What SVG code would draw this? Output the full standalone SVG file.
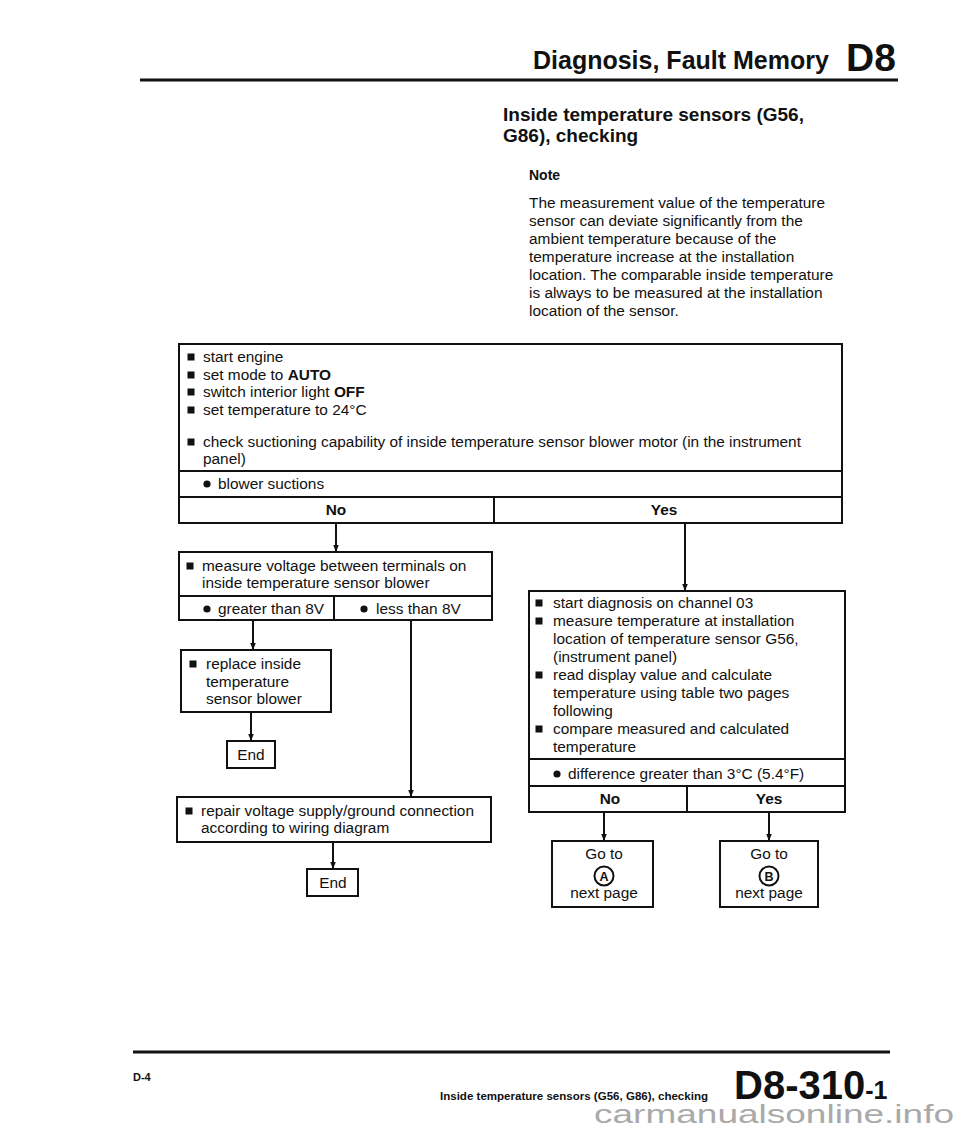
<svg xmlns="http://www.w3.org/2000/svg" width="960" height="1129" viewBox="0 0 960 1129">
<defs>
<marker id="ah" viewBox="0 0 10 10" refX="10" refY="5" markerWidth="7" markerHeight="7" markerUnits="userSpaceOnUse" orient="auto">
<path d="M0,1 L10,5 L0,9 z" fill="#111"/>
</marker>
<rect id="sq" x="-3.5" y="-3.5" width="7" height="7" fill="#111"/>
<circle id="dot" r="3.6" fill="#111"/>
</defs>
<style>
text{font-family:"Liberation Sans",Arial,Helvetica,sans-serif;fill:#111}
.t{font-size:15.4px}
.b{font-weight:bold}
.box{fill:#fff;stroke:#111;stroke-width:2}
.ln{stroke:#111;stroke-width:2;fill:none}
.c{stroke:#111;stroke-width:2;fill:none;marker-end:url(#ah)}
.m{text-anchor:middle}
</style>
<rect width="960" height="1129" fill="#fff"/>

<g id="header">
<text x="533" y="69" class="b" font-size="25">Diagnosis, Fault Memory</text>
<text x="846" y="71" class="b" font-size="39">D8</text>
<line x1="140" y1="80" x2="898" y2="80" stroke="#111" stroke-width="3"/>
</g>

<g id="title">
<text x="503" y="121" class="b" font-size="19">Inside temperature sensors (G56,</text>
<text x="503" y="142" class="b" font-size="19">G86), checking</text>
<text x="529" y="180" class="b" font-size="14">Note</text>
<g class="t">
<text x="529" y="208">The measurement value of the temperature</text>
<text x="529" y="226">sensor can deviate significantly from the</text>
<text x="529" y="244">ambient temperature because of the</text>
<text x="529" y="262">temperature increase at the installation</text>
<text x="529" y="280">location. The comparable inside temperature</text>
<text x="529" y="298">is always to be measured at the installation</text>
<text x="529" y="316">location of the sensor.</text>
</g>
</g>

<g id="connectors">
<line class="c" x1="336" y1="523" x2="336" y2="552"/>
<line class="c" x1="685" y1="523" x2="685" y2="591"/>
<line class="c" x1="253" y1="620" x2="253" y2="650"/>
<line class="c" x1="251" y1="712" x2="251" y2="741"/>
<line class="c" x1="411" y1="620" x2="411" y2="797"/>
<line class="c" x1="333" y1="842" x2="333" y2="869"/>
<line class="c" x1="604" y1="812" x2="604" y2="841"/>
<line class="c" x1="769" y1="812" x2="769" y2="841"/>
</g>

<g id="start-box">
<rect class="box" x="179" y="344" width="663" height="179"/>
<line class="ln" x1="179" y1="471" x2="842" y2="471"/>
<line class="ln" x1="179" y1="497" x2="842" y2="497"/>
<line class="ln" x1="494" y1="497" x2="494" y2="523"/>
<use href="#sq" x="191" y="357"/>
<use href="#sq" x="191" y="375"/>
<use href="#sq" x="191" y="392"/>
<use href="#sq" x="191" y="410"/>
<use href="#sq" x="191" y="442"/>
<g class="t">
<text x="203" y="362">start engine</text>
<text x="203" y="380">set mode to <tspan class="b">AUTO</tspan></text>
<text x="203" y="397">switch interior light <tspan class="b">OFF</tspan></text>
<text x="203" y="415">set temperature to 24°C</text>
<text x="203" y="447">check suctioning capability of inside temperature sensor blower motor (in the instrument</text>
<text x="203" y="464">panel)</text>
</g>
<use href="#dot" x="207" y="484"/>
<text x="218" y="489" class="t">blower suctions</text>
<text x="336" y="515" class="t b m">No</text>
<text x="664" y="515" class="t b m">Yes</text>
</g>

<g id="measure-box">
<rect class="box" x="179" y="552" width="313" height="68"/>
<line class="ln" x1="179" y1="596" x2="492" y2="596"/>
<line class="ln" x1="334" y1="596" x2="334" y2="620"/>
<use href="#sq" x="190" y="566"/>
<text x="202" y="571" class="t">measure voltage between terminals on</text>
<text x="202" y="588" class="t">inside temperature sensor blower</text>
<use href="#dot" x="207" y="609"/>
<text x="218" y="614" class="t">greater than 8V</text>
<use href="#dot" x="364" y="609"/>
<text x="376" y="614" class="t">less than 8V</text>
</g>

<g id="replace-box">
<rect class="box" x="181" y="650" width="150" height="62"/>
<use href="#sq" x="193" y="664"/>
<text x="206" y="669" class="t">replace inside</text>
<text x="206" y="687" class="t">temperature</text>
<text x="206" y="704" class="t">sensor blower</text>
</g>

<g id="end1">
<rect class="box" x="227" y="741" width="48" height="27"/>
<text x="251" y="760" class="t m">End</text>
</g>

<g id="repair-box">
<rect class="box" x="177" y="797" width="314" height="45"/>
<use href="#sq" x="189" y="811"/>
<text x="201" y="816" class="t">repair voltage supply/ground connection</text>
<text x="201" y="833" class="t">according to wiring diagram</text>
</g>

<g id="end2">
<rect class="box" x="307" y="869" width="51" height="27"/>
<text x="333" y="888" class="t m">End</text>
</g>

<g id="diagnosis-box">
<rect class="box" x="529" y="591" width="316" height="221"/>
<line class="ln" x1="529" y1="759" x2="845" y2="759"/>
<line class="ln" x1="529" y1="786" x2="845" y2="786"/>
<line class="ln" x1="687" y1="786" x2="687" y2="812"/>
<use href="#sq" x="539" y="603"/>
<use href="#sq" x="539" y="621"/>
<use href="#sq" x="539" y="675"/>
<use href="#sq" x="539" y="729"/>
<g class="t">
<text x="553" y="608">start diagnosis on channel 03</text>
<text x="553" y="626">measure temperature at installation</text>
<text x="553" y="644">location of temperature sensor G56,</text>
<text x="553" y="662">(instrument panel)</text>
<text x="553" y="680">read display value and calculate</text>
<text x="553" y="698">temperature using table two pages</text>
<text x="553" y="716">following</text>
<text x="553" y="734">compare measured and calculated</text>
<text x="553" y="752">temperature</text>
</g>
<use href="#dot" x="557" y="774"/>
<text x="568" y="779" class="t">difference greater than 3°C (5.4°F)</text>
<text x="610" y="804" class="t b m">No</text>
<text x="769" y="804" class="t b m">Yes</text>
</g>

<g id="goto-a">
<rect class="box" x="552" y="841" width="101" height="66"/>
<text x="604" y="859" class="t m">Go to</text>
<circle cx="604" cy="876" r="9.5" fill="none" stroke="#111" stroke-width="2"/>
<text x="604" y="880.5" class="b m" font-size="12.5">A</text>
<text x="604" y="898" class="t m">next page</text>
</g>

<g id="goto-b">
<rect class="box" x="720" y="841" width="98" height="66"/>
<text x="769" y="859" class="t m">Go to</text>
<circle cx="769" cy="876" r="9.5" fill="none" stroke="#111" stroke-width="2"/>
<text x="769" y="880.5" class="b m" font-size="12.5">B</text>
<text x="769" y="898" class="t m">next page</text>
</g>

<g id="footer">
<line x1="133" y1="1052" x2="890" y2="1052" stroke="#111" stroke-width="3"/>
<text x="133" y="1081" class="b" font-size="11">D-4</text>
<text x="440" y="1100" class="b" font-size="10.5" textLength="268" lengthAdjust="spacingAndGlyphs">Inside temperature sensors (G56, G86), checking</text>
<text x="734" y="1099" class="b" font-size="40">D8-310<tspan font-size="25">-1</tspan></text>
<text x="594" y="1123" font-size="26" style="fill:#a9a9a9" textLength="360" lengthAdjust="spacingAndGlyphs">carmanualsonline.info</text>
</g>
</svg>
